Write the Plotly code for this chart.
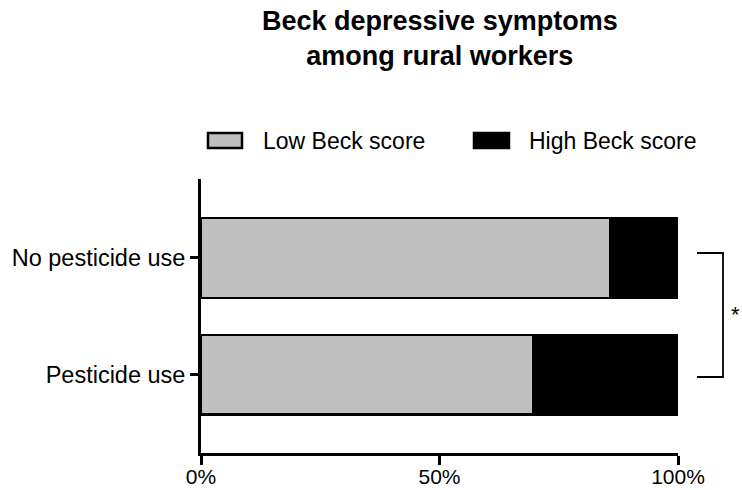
import plotly.graph_objects as go

# Data: share of workers (%) in each Beck score band
groups = ["Pesticide use", "No pesticide use"]
low_beck = [69.6, 85.7]
high_beck = [30.4, 14.3]
x_ticks = [0, 50, 100]
x_tick_labels = ["0%", "50%", "100%"]
series_names = ["Low Beck score", "High Beck score"]

FONT = "Liberation Sans, Arial, Helvetica, sans-serif"
W, H = 742, 490
ML, MR, MT, MB = 201, 64, 179, 37
PW, PH = W - ML - MR, H - MT - MB


def px_x(px):
    return (px - ML) / PW


def px_y(py):
    return (H - MB - py) / PH


fig = go.Figure()
fig.add_trace(go.Bar(
    y=groups, x=low_beck, orientation="h", name=series_names[0],
    marker=dict(color="#c0c0c0", line=dict(color="black", width=2.5)),
    width=0.68, showlegend=False, hoverinfo="x+y",
))
fig.add_trace(go.Bar(
    y=groups, x=high_beck, orientation="h", name=series_names[1],
    marker=dict(color="black", line=dict(color="black", width=2.5)),
    width=0.68, showlegend=False, hoverinfo="x+y",
))

shapes = []
annotations = []

# Legend drawn as swatches + labels above the plot
legend_items = [
    (series_names[0], "#c0c0c0", 208, 242, 261),
    (series_names[1], "black", 474, 509, 527),
]
for name, color, x0, x1, tx in legend_items:
    shapes.append(dict(
        type="rect", xref="paper", yref="paper",
        x0=px_x(x0), x1=px_x(x1), y0=px_y(148), y1=px_y(133),
        fillcolor=color, line=dict(color="black", width=2.5),
    ))
    annotations.append(dict(
        text=name, xref="paper", yref="paper", x=px_x(tx), y=px_y(141),
        xanchor="left", yanchor="middle", showarrow=False,
        font=dict(family=FONT, size=23, color="black"),
    ))

# Significance bracket between the two groups
shapes.append(dict(
    type="path", xref="paper", yref="paper",
    path=(f"M {px_x(697)},{px_y(253)} L {px_x(723)},{px_y(253)} "
          f"L {px_x(723)},{px_y(377)} L {px_x(697)},{px_y(377)}"),
    line=dict(color="black", width=1.8),
))
annotations.append(dict(
    text="*", xref="paper", yref="paper", x=px_x(735), y=px_y(314),
    xanchor="center", yanchor="middle", showarrow=False,
    font=dict(family=FONT, size=22, color="black"),
))

# Title
annotations.append(dict(
    text="<b>Beck depressive symptoms<br>among rural workers</b>",
    xref="paper", yref="paper", x=0.5, y=px_y(4),
    xanchor="center", yanchor="top", showarrow=False,
    font=dict(family=FONT, size=27, color="black"),
))

fig.update_layout(
    width=W, height=H,
    margin=dict(l=ML, r=MR, t=MT, b=MB, pad=0, autoexpand=False),
    barmode="stack",
    plot_bgcolor="white", paper_bgcolor="white",
    font=dict(family=FONT, size=23, color="black"),
    shapes=shapes, annotations=annotations,
    showlegend=False,
)
fig.update_xaxes(
    range=[0, 100], tickvals=x_ticks, ticktext=x_tick_labels,
    showgrid=False, zeroline=False, automargin=False,
    showline=True, linecolor="black", linewidth=2.7,
    ticks="outside", ticklen=9, tickwidth=2.5, tickcolor="black",
    ticklabelstandoff=-6,
    tickfont=dict(family=FONT, size=21, color="black"),
)
fig.update_yaxes(
    type="category", categoryorder="array", categoryarray=groups,
    range=[-0.667, 1.675], automargin=False,
    showgrid=False, zeroline=False,
    showline=True, linecolor="black", linewidth=2.7,
    ticks="outside", ticklen=8, tickwidth=2.5, tickcolor="black",
    tickfont=dict(family=FONT, size=23.5, color="black"),
)

fig.write_html("out.html")
